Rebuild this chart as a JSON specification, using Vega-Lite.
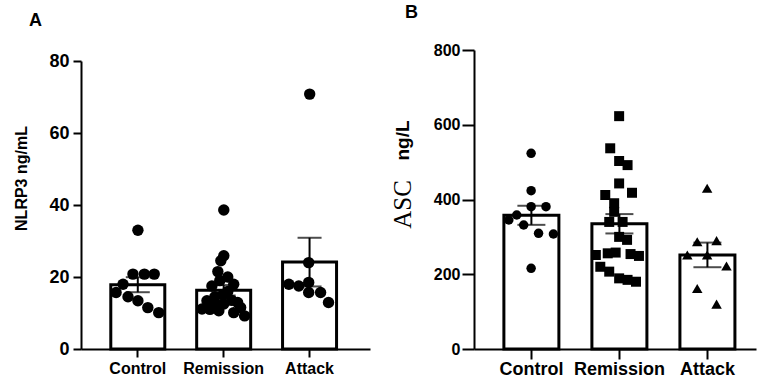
{
  "$schema": "https://vega.github.io/schema/vega-lite/v6.json",
  "padding": {"left": 13, "top": 4, "right": 0, "bottom": 0},
  "autosize": {"type": "pad"},
  "background": "white",
  "config": {
    "font": "Liberation Sans",
    "view": {"stroke": null},
    "concat": {"spacing": 20},
    "axis": {
      "domainColor": "black", "tickColor": "black", "labelColor": "black", "titleColor": "black",
      "domainWidth": 2, "tickWidth": 2, "tickSize": 8, "grid": false,
      "labelFontWeight": "bold", "titleFontWeight": "bold",
      "labelFont": "Liberation Sans", "titleFont": "Liberation Sans"
    }
  },
  "datasets": {
    "A": [
      {"group": "Control", "value": 33.0, "jit": 0},
      {"group": "Control", "value": 20.8, "jit": -5},
      {"group": "Control", "value": 20.8, "jit": 6.5},
      {"group": "Control", "value": 20.8, "jit": 16.5},
      {"group": "Control", "value": 18.0, "jit": -15},
      {"group": "Control", "value": 15.7, "jit": -22},
      {"group": "Control", "value": 14.5, "jit": -10},
      {"group": "Control", "value": 13.4, "jit": 0},
      {"group": "Control", "value": 11.5, "jit": 10},
      {"group": "Control", "value": 10.1, "jit": 21},
      {"group": "Remission", "value": 38.6, "jit": 0},
      {"group": "Remission", "value": 25.9, "jit": 0},
      {"group": "Remission", "value": 24.5, "jit": -3},
      {"group": "Remission", "value": 21.5, "jit": -6},
      {"group": "Remission", "value": 20.0, "jit": 4},
      {"group": "Remission", "value": 19.0, "jit": -4},
      {"group": "Remission", "value": 17.5, "jit": -12},
      {"group": "Remission", "value": 18.0, "jit": 10},
      {"group": "Remission", "value": 16.0, "jit": 4},
      {"group": "Remission", "value": 15.0, "jit": -1},
      {"group": "Remission", "value": 14.5, "jit": -9},
      {"group": "Remission", "value": 13.5, "jit": 8},
      {"group": "Remission", "value": 12.5, "jit": 0},
      {"group": "Remission", "value": 12.5, "jit": -8},
      {"group": "Remission", "value": 13.4, "jit": -17},
      {"group": "Remission", "value": 12.9, "jit": 14},
      {"group": "Remission", "value": 11.5, "jit": 17},
      {"group": "Remission", "value": 11.1, "jit": -22},
      {"group": "Remission", "value": 11.0, "jit": -14},
      {"group": "Remission", "value": 10.6, "jit": -5},
      {"group": "Remission", "value": 10.1, "jit": 10},
      {"group": "Remission", "value": 9.2, "jit": 21},
      {"group": "Attack", "value": 70.8, "jit": 0},
      {"group": "Attack", "value": 24.0, "jit": -1},
      {"group": "Attack", "value": 18.0, "jit": -21},
      {"group": "Attack", "value": 17.5, "jit": -11},
      {"group": "Attack", "value": 18.5, "jit": -1},
      {"group": "Attack", "value": 15.7, "jit": -1},
      {"group": "Attack", "value": 15.7, "jit": 11},
      {"group": "Attack", "value": 12.9, "jit": 19}
    ],
    "B": [
      {"group": "Control", "value": 523.6, "jit": 0},
      {"group": "Control", "value": 423.6, "jit": 0},
      {"group": "Control", "value": 380.7, "jit": 0},
      {"group": "Control", "value": 380.7, "jit": 15},
      {"group": "Control", "value": 358.5, "jit": -14.5},
      {"group": "Control", "value": 345.2, "jit": -22.5},
      {"group": "Control", "value": 331.8, "jit": -7.5},
      {"group": "Control", "value": 309.6, "jit": 7.5},
      {"group": "Control", "value": 307.7, "jit": 22.5},
      {"group": "Control", "value": 215.9, "jit": 0},
      {"group": "Remission", "value": 623, "jit": 0},
      {"group": "Remission", "value": 537, "jit": -9},
      {"group": "Remission", "value": 503, "jit": 0},
      {"group": "Remission", "value": 492, "jit": 8.5},
      {"group": "Remission", "value": 443, "jit": 0},
      {"group": "Remission", "value": 412, "jit": -14},
      {"group": "Remission", "value": 418, "jit": 13},
      {"group": "Remission", "value": 390, "jit": -5},
      {"group": "Remission", "value": 367, "jit": -5},
      {"group": "Remission", "value": 340, "jit": -10},
      {"group": "Remission", "value": 340, "jit": 3.5},
      {"group": "Remission", "value": 300, "jit": 0},
      {"group": "Remission", "value": 292, "jit": 8},
      {"group": "Remission", "value": 251.5, "jit": -23.5},
      {"group": "Remission", "value": 256, "jit": -11.5},
      {"group": "Remission", "value": 258, "jit": -3.5},
      {"group": "Remission", "value": 254, "jit": 11.5},
      {"group": "Remission", "value": 249, "jit": 20},
      {"group": "Remission", "value": 220, "jit": -19},
      {"group": "Remission", "value": 207, "jit": -10},
      {"group": "Remission", "value": 189, "jit": 0},
      {"group": "Remission", "value": 185, "jit": 8.5},
      {"group": "Remission", "value": 180, "jit": 17},
      {"group": "Attack", "value": 430, "jit": 0},
      {"group": "Attack", "value": 287, "jit": -10},
      {"group": "Attack", "value": 290, "jit": 9.5},
      {"group": "Attack", "value": 251.5, "jit": -20},
      {"group": "Attack", "value": 251.5, "jit": 0},
      {"group": "Attack", "value": 222, "jit": 19.5},
      {"group": "Attack", "value": 162, "jit": -10},
      {"group": "Attack", "value": 120, "jit": 9.5}
    ]
  },
  "hconcat": [
    {
      "width": 289,
      "height": 299,
      "data": {"name": "A"},
      "title": {"text": "A", "anchor": "start", "frame": "group", "dx": -52, "offset": 20, "fontSize": 18, "fontWeight": "bold", "color": "black", "font": "Liberation Sans"},
      "encoding": {
        "x": {
          "field": "group", "type": "nominal", "sort": ["Control", "Remission", "Attack"],
          "scale": {"paddingInner": 0.345, "paddingOuter": 0.355, "align": 0.47},
          "axis": {"title": null, "labelAngle": 0, "labelFontSize": 16, "labelPadding": 3, "tickSize": 8}
        }
      },
      "layer": [
        {
          "mark": {"type": "bar", "fill": "white", "stroke": "black", "strokeWidth": 3, "width": 54},
          "encoding": {
            "y": {
              "aggregate": "mean", "field": "value", "type": "quantitative",
              "scale": {"domain": [0, 80], "range": [299, 11], "nice": false},
              "axis": {"values": [0, 20, 40, 60, 80], "title": "NLRP3 ng/mL", "labelFontSize": 18, "titleFontSize": 16,
                       "titleX": -60, "titleY": 128, "titleAngle": -90, "titleAlign": "center", "titleBaseline": "middle", "labelPadding": 4, "tickSize": 8}
            }
          }
        },
        {
          "mark": {"type": "point", "shape": "circle", "filled": true, "color": "black", "size": 130, "opacity": 1},
          "encoding": {
            "y": {"field": "value", "type": "quantitative", "axis": {"title": "NLRP3 ng/mL"}},
            "xOffset": {"field": "jit", "type": "quantitative", "scale": {"domain": [-28.25, 28.25], "range": [0, 56.5]}}
          }
        },
        {
          "mark": {"type": "errorbar", "extent": "stderr", "color": "black", "ticks": {"size": 24, "color": "black", "thickness": 2}, "rule": {"strokeWidth": 2}},
          "encoding": {"y": {"field": "value", "type": "quantitative", "axis": {"title": "NLRP3 ng/mL"}}}
        }
      ]
    },
    {
      "width": 282,
      "height": 299,
      "data": {"name": "B"},
      "title": {"text": "B", "anchor": "start", "frame": "group", "dx": -69, "offset": 20, "fontSize": 18, "fontWeight": "bold", "color": "black", "font": "Liberation Sans"},
      "layer": [
        {
          "encoding": {
            "x": {
              "field": "group", "type": "nominal", "sort": ["Control", "Remission", "Attack"],
              "scale": {"paddingInner": 0.352, "paddingOuter": 0.278, "align": 0.59},
              "axis": {"title": null, "labelAngle": 0, "labelFontSize": 18, "labelPadding": 1, "tickSize": 10}
            }
          },
          "layer": [
            {
              "mark": {"type": "bar", "fill": "white", "stroke": "black", "strokeWidth": 3, "width": 55},
              "encoding": {
                "y": {
                  "aggregate": "mean", "field": "value", "type": "quantitative",
                  "scale": {"domain": [0, 800], "range": [299, 0], "nice": false},
                  "axis": {"values": [0, 200, 400, 600, 800], "title": "ng/L", "labelFontSize": 16, "titleFontSize": 19,
                           "titleX": -72, "titleY": 90, "titleAngle": -90, "titleAlign": "center", "titleBaseline": "middle", "labelPadding": 2, "tickSize": 12}
                }
              }
            },
            {
              "mark": {"type": "point", "filled": true, "color": "black", "opacity": 1},
              "encoding": {
                "y": {"field": "value", "type": "quantitative", "axis": {"title": "ng/L"}},
                "xOffset": {"field": "jit", "type": "quantitative", "scale": {"domain": [-28.5, 28.5], "range": [0, 57]}},
                "shape": {"field": "group", "type": "nominal", "scale": {"domain": ["Control", "Remission", "Attack"], "range": ["circle", "square", "triangle-up"]}, "legend": null},
                "size": {"field": "group", "type": "ordinal", "scale": {"domain": ["Control", "Remission", "Attack"], "range": [90, 110, 100]}, "legend": null}
              }
            },
            {
              "mark": {"type": "errorbar", "extent": "stderr", "color": "black", "ticks": {"size": 28, "color": "black", "thickness": 2}, "rule": {"strokeWidth": 2}},
              "encoding": {"y": {"field": "value", "type": "quantitative", "axis": {"title": "ng/L"}}}
            }
          ]
        },
        {
          "mark": {"type": "tick", "opacity": 0},
          "encoding": {
            "y": {
              "field": "value", "type": "quantitative",
              "scale": {"domain": [0, 800], "range": [299, 0], "nice": false},
              "axis": {"orient": "left", "title": "ASC", "labels": false, "ticks": false, "domain": false,
                       "titleFont": "Liberation Serif", "titleFontWeight": "normal", "titleFontSize": 25,
                       "titleX": -72, "titleY": 154, "titleAngle": -90, "titleAlign": "center", "titleBaseline": "middle"}
            }
          }
        }
      ],
      "resolve": {"scale": {"y": "independent"}}
    }
  ]
}
